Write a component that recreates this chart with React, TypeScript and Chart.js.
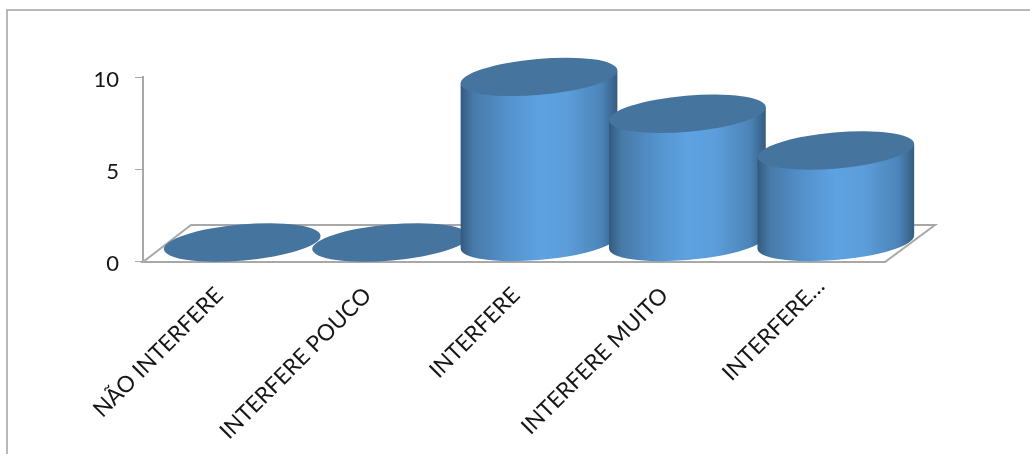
import React, { useEffect, useRef } from "react";
import { Chart, registerables } from "chart.js";

Chart.register(...registerables);

const categories = ["NÃO INTERFERE", "INTERFERE POUCO", "INTERFERE", "INTERFERE MUITO", "INTERFERE…"];
const responses = [0, 0, 9, 7, 5];
const yTicks = [0, 5, 10];

const AXIS_GREY = "#a8a8a8";
const CAP_BLUE = "#45759f";
const TEXT_COLOR = "#161616";
const FONT = "Lato, Carlito, sans-serif";

// Depth of the box floor, in pixels, going back and to the right.
const DEPTH_X = 48;
const DEPTH_Y = -37;
const TILT = (-5 * Math.PI) / 180;
const WIDTH_FACTOR = 1.06;
const MINOR_AXIS = 18;

const cylinders = {
  id: "cylinders",
  beforeDraw(chart: any) {
    // The truncated last label sits further along its slant than the others.
    const items = chart.scales.x.getLabelItems();
    const last = items[items.length - 1];
    if (last && !last.options.nudged) {
      last.options.translation = [last.options.translation[0] + 8, last.options.translation[1] - 9];
      last.options.nudged = true;
    }
  },
  beforeDatasetsDraw(chart: any) {
    const { ctx, chartArea } = chart;
    const { left, right, bottom } = chartArea;

    ctx.save();
    // Frame around the chart, open on the right and bottom.
    ctx.strokeStyle = "#a2a2a2";
    ctx.lineWidth = 1.5;
    ctx.beginPath();
    ctx.moveTo(7, 454);
    ctx.lineTo(7, 10);
    ctx.lineTo(1030, 10);
    ctx.stroke();

    // Floor of the 3D box.
    ctx.strokeStyle = AXIS_GREY;
    ctx.lineWidth = 2;
    ctx.beginPath();
    ctx.moveTo(left, bottom + 1);
    ctx.lineTo(left + DEPTH_X, bottom + 1 + DEPTH_Y);
    ctx.lineTo(right + DEPTH_X + 2, bottom + 1 + DEPTH_Y);
    ctx.lineTo(right, bottom + 1);
    ctx.closePath();
    ctx.stroke();

    const meta = chart.getDatasetMeta(0);
    meta.data.forEach((bar: any) => {
      const major = (bar.width * WIDTH_FACTOR) / 2;
      const cx = bar.x + DEPTH_X / 2 + 1;
      const baseY = bar.base + DEPTH_Y / 2;
      const topY = bar.y + DEPTH_Y / 2;
      const t0 = Math.atan2(-MINOR_AXIS * Math.sin(TILT), major * Math.cos(TILT));
      const extentX = major * Math.cos(t0) * Math.cos(TILT) - MINOR_AXIS * Math.sin(t0) * Math.sin(TILT);
      const extentY = major * Math.cos(t0) * Math.sin(TILT) + MINOR_AXIS * Math.sin(t0) * Math.cos(TILT);

      if (baseY - topY > 0.5) {
        const side = ctx.createLinearGradient(cx - extentX, 0, cx + extentX, 0);
        side.addColorStop(0, "#335a80");
        side.addColorStop(0.08, "#477aa8");
        side.addColorStop(0.3, "#5492cc");
        side.addColorStop(0.5, "#5ea2e2");
        side.addColorStop(0.68, "#5c9dda");
        side.addColorStop(0.9, "#4c84b8");
        side.addColorStop(1, "#345c80");
        ctx.fillStyle = side;
        ctx.beginPath();
        ctx.ellipse(cx, baseY, major, MINOR_AXIS, TILT, t0, t0 + Math.PI, false);
        ctx.lineTo(cx - extentX, topY - extentY);
        ctx.lineTo(cx + extentX, topY + extentY);
        ctx.closePath();
        ctx.fill();
      }

      ctx.fillStyle = CAP_BLUE;
      ctx.beginPath();
      ctx.ellipse(cx, topY, major, MINOR_AXIS, TILT, 0, Math.PI * 2);
      ctx.fill();
    });
    ctx.restore();
    // The cylinders replace the default flat bars.
    return false;
  },
};

export default function App() {
  const ref = useRef<HTMLCanvasElement>(null);

  useEffect(() => {
    const chart = new Chart(ref.current!, {
      type: "bar",
      data: {
        labels: categories,
        datasets: [
          {
            data: responses,
            backgroundColor: "rgba(0,0,0,0)",
            barPercentage: 1,
            categoryPercentage: 1,
          },
        ],
      },
      options: {
        animation: false,
        responsive: false,
        layout: { padding: { top: 77, right: 145, left: 0, bottom: 0 } },
        plugins: { legend: { display: false }, tooltip: { enabled: false } },
        scales: {
          x: {
            afterFit(scale: any) {
              scale.height = 193;
            },
            grid: { display: false },
            border: { display: false },
            ticks: {
              autoSkip: false,
              minRotation: 45,
              maxRotation: 45,
              padding: 13,
              labelOffset: 2,
              color: TEXT_COLOR,
              font: { family: FONT, size: 22.5 },
            },
          },
          y: {
            min: 0,
            max: 10,
            afterFit(scale: any) {
              scale.width = 143;
            },
            afterBuildTicks(scale: any) {
              scale.ticks = yTicks.map((value) => ({ value }));
            },
            border: { display: true, color: AXIS_GREY, width: 2 },
            grid: { drawOnChartArea: false, drawTicks: true, tickLength: 8, color: AXIS_GREY, lineWidth: 1 },
            ticks: {
              padding: 16,
              labelOffset: 3,
              color: TEXT_COLOR,
              font: { family: FONT, size: 22 },
            },
          },
        },
      },
      plugins: [cylinders],
    } as any);
    return () => chart.destroy();
  }, []);

  return (
    <canvas
      ref={ref}
      width={1030}
      height={454}
      style={{ position: "fixed", left: 0, top: 0, display: "block", background: "#fff" }}
    />
  );
}
